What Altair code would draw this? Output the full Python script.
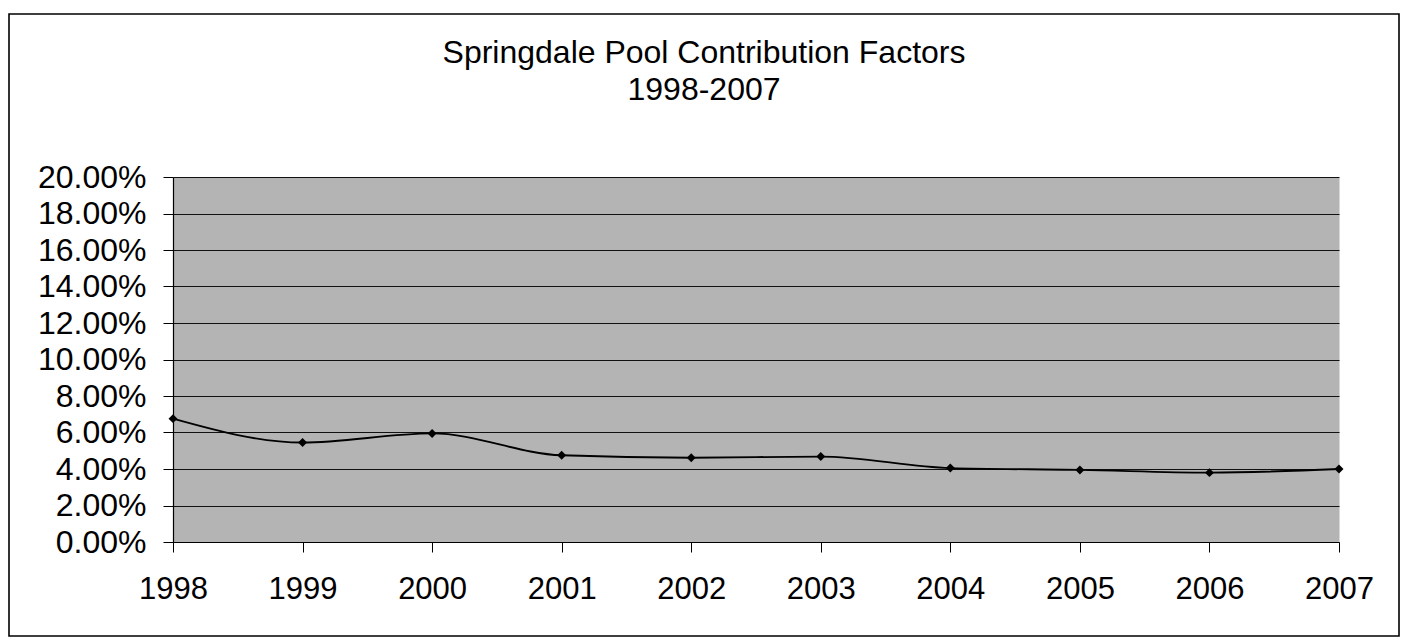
import altair as alt
import pandas as pd

# ---- data ----
years = ["1998", "1999", "2000", "2001", "2002", "2003", "2004", "2005", "2006", "2007"]
factors = [0.0676, 0.0545, 0.0595, 0.0475, 0.0462, 0.0468, 0.0405, 0.0395, 0.0380, 0.0400]
y_ticks = [0.0, 0.02, 0.04, 0.06, 0.08, 0.10, 0.12, 0.14, 0.16, 0.18, 0.20]
title_lines = ["Springdale Pool Contribution Factors", "1998-2007"]

df = pd.DataFrame({"year": years, "factor": factors})

FONT = "Liberation Sans"
W, H = 1166, 365

x_enc = alt.X(
    "year:O",
    scale=alt.Scale(type="point", padding=0),
    axis=alt.Axis(
        title=None, labelAngle=0, labelFont=FONT, labelFontSize=31,
        labelColor="black", labelPadding=22, tickSize=10, tickColor="black",
        tickWidth=1, domainColor="black", domainWidth=1.2, grid=False,
    ),
)
y_enc = alt.Y(
    "factor:Q",
    scale=alt.Scale(domain=[0, 0.2], nice=False, zero=True),
    axis=alt.Axis(
        title=None, values=y_ticks, format=".2%", labelFont=FONT,
        labelFontSize=32, labelColor="black", labelPadding=17, tickSize=10,
        tickColor="black", tickWidth=1, domainColor="black", domainWidth=1.2,
        grid=True, gridColor="#111111", gridWidth=1.2,
    ),
)

base = alt.Chart(df).encode(x=x_enc, y=y_enc)

line = base.mark_line(color="black", strokeWidth=1.9, interpolate="monotone")
points = base.mark_point(shape="diamond", filled=True, color="black", size=80, opacity=1)

frame = alt.Chart(pd.DataFrame({"f": [0]})).mark_rect(
    fill="transparent", stroke="black", strokeWidth=1.6
).encode(
    x=alt.value(-164), x2=alt.value(1226), y=alt.value(-163), y2=alt.value(459)
)

chart = (
    alt.layer(frame, line, points)
    .properties(
        width=W,
        height=H,
        title=alt.TitleParams(
            text=title_lines, font=FONT, fontSize=32, fontWeight="normal",
            color="black", anchor="middle", dx=-52, offset=-94, lineHeight=37,
        ),
        autosize=alt.AutoSizeParams(type="none"),
        padding={"left": 165, "top": 169, "right": 62, "bottom": 96},
        background="white",
    )
    .configure_view(fill="#b4b4b4", stroke="transparent")
)

chart.save("out.html", embed_options={"renderer": "svg", "actions": False})
